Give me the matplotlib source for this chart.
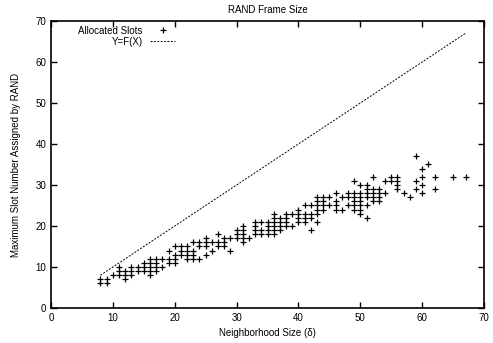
import numpy as np
import matplotlib as mpl
import matplotlib.pyplot as plt

mpl.rcParams['font.family'] = ['Liberation Sans', 'DejaVu Sans']

# neighborhood size -> max slot numbers observed for it
neighborhood = [8, 9, 10, 11, 12, 13, 14, 15, 16, 17, 18, 19, 20, 21, 22, 23, 24, 25,
                26, 27, 28, 29, 30, 31, 32, 33, 34, 35, 36, 37, 38, 39, 40, 41, 42, 43,
                44, 45, 46, 47, 48, 49, 50, 51, 52, 53, 54, 55, 56, 57, 58, 59, 60, 61,
                62, 65, 67]
slots = [[6, 7], [6, 7], [8], [8, 9, 10], [7, 8, 9], [8, 9, 10], [9, 10], [9, 10, 11],
         [8, 9, 10, 11, 12], [9, 10, 11, 12], [10, 12], [11, 12, 14], [11, 12, 13, 15],
         [13, 14, 15], [12, 13, 14, 15], [12, 13, 14, 16], [12, 15, 16], [13, 15, 16, 17],
         [14, 16], [15, 16, 18], [15, 16, 17], [14, 17], [17, 18, 19], [16, 17, 18, 19, 20],
         [17], [18, 19, 20, 21], [18, 19, 21], [18, 19, 20, 21], [18, 19, 20, 21, 22, 23],
         [19, 20, 21, 22], [20, 21, 22, 23], [20, 23], [21, 22, 23, 24], [21, 22, 23, 25],
         [19, 22, 23, 25], [21, 23, 24, 25, 26, 27], [24, 25, 26, 27], [25, 27],
         [24, 25, 26, 28], [24, 27], [25, 27, 28], [24, 25, 26, 27, 28, 31],
         [23, 24, 25, 26, 27, 28, 30], [22, 25, 27, 28, 29, 30], [26, 27, 28, 29, 32],
         [26, 27, 28, 29], [28, 31], [31, 32], [29, 30, 31, 32], [28], [27],
         [29, 31, 37], [28, 30, 32, 34], [35], [29, 32], [32], [32]]

xs = [n for n, s in zip(neighborhood, slots) for v in s]
ys = [v for s in slots for v in s]

fig = plt.figure(figsize=(4.93, 3.43), dpi=100)
ax = fig.add_axes([0.1034, 0.102, 0.8786, 0.837])

ax.plot(xs, ys, linestyle='none', marker='+', color='k', markersize=4,
        markeredgewidth=0.9, label='Allocated Slots')
line_x = np.array([8, 67])
ax.plot(line_x, line_x, color='k', linewidth=0.7, dashes=(2, 1.5), label='Y=F(X)')

ax.set_xlim(0, 70)
ax.set_ylim(0, 70)
ax.set_xticks(range(0, 71, 10))
ax.set_yticks(range(0, 71, 10))
ax.tick_params(direction='in', top=True, right=True, labelsize=7, length=4, width=1)
for sp in ax.spines.values():
    sp.set_linewidth(1.2)

ax.set_title('RAND Frame Size', fontsize=7, pad=6)
ax.set_xlabel('Neighborhood Size (δ)', fontsize=7, labelpad=4)
ax.set_ylabel('Maximum Slot Number Assigned by RAND', fontsize=7, labelpad=10)

leg = ax.legend(loc='upper left', bbox_to_anchor=(0.045, 1.01), frameon=False,
                markerfirst=False, fontsize=7, handlelength=2.5, handletextpad=0.8,
                borderpad=0.3, labelspacing=0.1)
for t in leg.get_texts():
    t.set_ha('right')

fig.savefig('out.png', dpi=100)
plt.close(fig)
